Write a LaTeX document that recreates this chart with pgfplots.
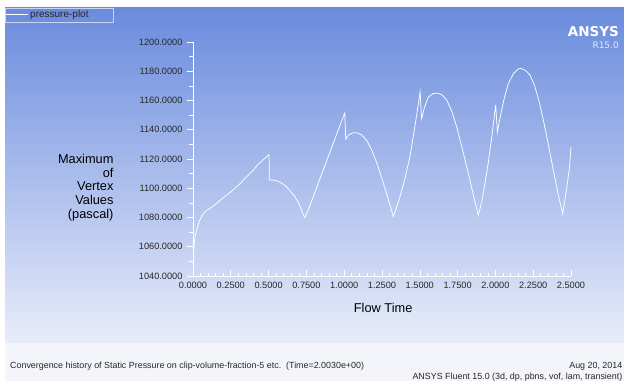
\documentclass[border=0pt]{standalone}
\usepackage{pgfplots}
\pgfplotsset{compat=1.18}
\usepackage{fontspec}
\setmainfont{Liberation Sans}
\newfontfamily\logofont{DejaVu Sans}
\definecolor{bgtop}{RGB}{106,139,221}
\definecolor{bgbot}{RGB}{232,237,250}
\definecolor{footbg}{RGB}{243,245,251}
\definecolor{labelgray}{RGB}{40,40,40}
\definecolor{legframe}{RGB}{200,212,242}
\definecolor{logosub}{RGB}{225,232,248}

% maximum static pressure on clip-volume-fraction-5 (pascal) vs flow time (s)
\pgfplotstableread{
t      p
0.000  1048.0
0.004  1050.0
0.006  1060.0
0.012  1066.0
0.025  1072.0
0.040  1077.0
0.060  1081.5
0.080  1084.0
0.100  1085.5
0.130  1087.5
0.160  1090.0
0.200  1093.5
0.250  1097.5
0.300  1102.0
0.344  1106.8
0.400  1112.5
0.432  1116.5
0.470  1120.0
0.503  1123.0
0.505  1105.6
0.530  1105.6
0.555  1105.0
0.580  1104.0
0.610  1101.8
0.640  1098.5
0.675  1094.0
0.700  1089.5
0.720  1084.5
0.738  1080.0
0.760  1084.5
0.800  1095.5
0.850  1109.5
0.900  1123.0
0.950  1137.0
0.980  1145.0
1.004  1151.5
1.010  1133.5
1.030  1136.5
1.060  1138.0
1.090  1137.8
1.116  1136.4
1.150  1132.5
1.182  1126.2
1.220  1116.0
1.259  1103.4
1.290  1093.0
1.325  1080.6
1.369  1094.2
1.400  1106.0
1.435  1121.6
1.470  1144.0
1.502  1165.8
1.512  1147.5
1.530  1155.0
1.556  1162.3
1.590  1164.8
1.622  1165.0
1.650  1163.5
1.678  1160.3
1.710  1153.0
1.744  1142.0
1.780  1127.5
1.821  1110.2
1.855  1095.0
1.887  1081.5
1.910  1091.0
1.931  1103.0
1.955  1119.0
1.976  1135.0
2.002  1157.0
2.013  1138.5
2.030  1147.8
2.055  1160.0
2.085  1171.5
2.120  1178.5
2.150  1181.5
2.167  1182.0
2.200  1180.5
2.229  1177.4
2.260  1170.0
2.290  1159.0
2.317  1146.7
2.350  1130.0
2.383  1112.5
2.415  1096.0
2.445  1082.5
2.470  1099.0
2.490  1114.0
2.500  1128.5
}\pressure

\begin{document}
\begin{tikzpicture}[x=1pt,y=1pt]
\useasboundingbox (0,0) rectangle (624,381);
\fill[white] (0,0) rectangle (624,381);
\shade[top color=bgtop, bottom color=bgbot] (5,38) rectangle (624,373);
\fill[footbg] (5,0) rectangle (624,38);

\begin{axis}[
  at={(193pt,105pt)}, anchor=south west,
  scale only axis, width=378pt, height=234pt,
  xmin=0, xmax=2.5, ymin=1040, ymax=1200,
  axis x line*=bottom, axis y line*=left,
  axis line style={white, line width=0.7pt},
  xtick={0,0.25,0.5,0.75,1,1.25,1.5,1.75,2,2.25,2.5},
  ytick={1040,1060,1080,1100,1120,1140,1160,1180,1200},
  minor x tick num=4, minor y tick num=1,
  xtick align=inside, ytick align=outside,
  major tick length=6pt, minor tick length=3.5pt,
  tick style={white, line width=0.6pt},
  ticklabel style={font=\fontsize{9.2}{9.2}\selectfont, text=labelgray},
  /pgf/number format/fixed,
  /pgf/number format/fixed zerofill,
  /pgf/number format/precision=4,
  /pgf/number format/1000 sep={},
  /pgf/number format/assume math mode=true,
  xticklabel style={yshift=-3pt},
  yticklabel style={xshift=-1pt},
  xlabel={Flow Time},
  xlabel style={at={(axis description cs:0.503,-0.137)}, anchor=center,
    font=\fontsize{12.8}{13.8}\selectfont, text=black},
  ylabel={Maximum\\of\\Vertex\\Values\\(pascal)},
  ylabel style={at={(axis description cs:-0.201,0.378)}, anchor=east,
    rotate=-90, align=right, font=\fontsize{12.8}{13.8}\selectfont, text=black},
  legend style={at={(axis description cs:-0.4974,1.1453)}, anchor=north west,
    draw=legframe, fill=none, inner sep=0.5pt, outer sep=0pt,
    font=\fontsize{10}{10}\selectfont, text=labelgray,
    /tikz/every even column/.append style={column sep=1pt}},
  legend cell align=left,
  legend image code/.code={\draw[#1] (0pt,0pt) -- (22pt,0pt);},
  clip=false,
]
\addplot[white, line width=0.75pt] table[x=t, y=p] {\pressure};
\addlegendentry{\makebox[80pt][l]{pressure-plot}}
\end{axis}

% logo
\node[anchor=base east, inner sep=0pt, text=white, font=\logofont\bfseries\fontsize{13.5}{13.5}\selectfont] at (619,344) {ANSYS};
\node[anchor=base east, inner sep=0pt, text=logosub, font=\logofont\fontsize{9}{9}\selectfont] at (619,332) {R15.0};

% footer
\node[anchor=base west, inner sep=0pt, text=labelgray, font=\fontsize{8.9}{8.9}\selectfont] at (10,13)
  {Convergence history of Static Pressure on clip-volume-fraction-5 etc.\ \ (Time=2.0030e+00)};
\node[anchor=base east, inner sep=0pt, text=labelgray, font=\fontsize{8.9}{8.9}\selectfont] at (622.5,13) {Aug 20, 2014};
\node[anchor=base east, inner sep=0pt, text=labelgray, font=\fontsize{8.9}{8.9}\selectfont] at (622.5,2)
  {ANSYS Fluent 15.0 (3d, dp, pbns, vof, lam, transient)};
\end{tikzpicture}
\end{document}
